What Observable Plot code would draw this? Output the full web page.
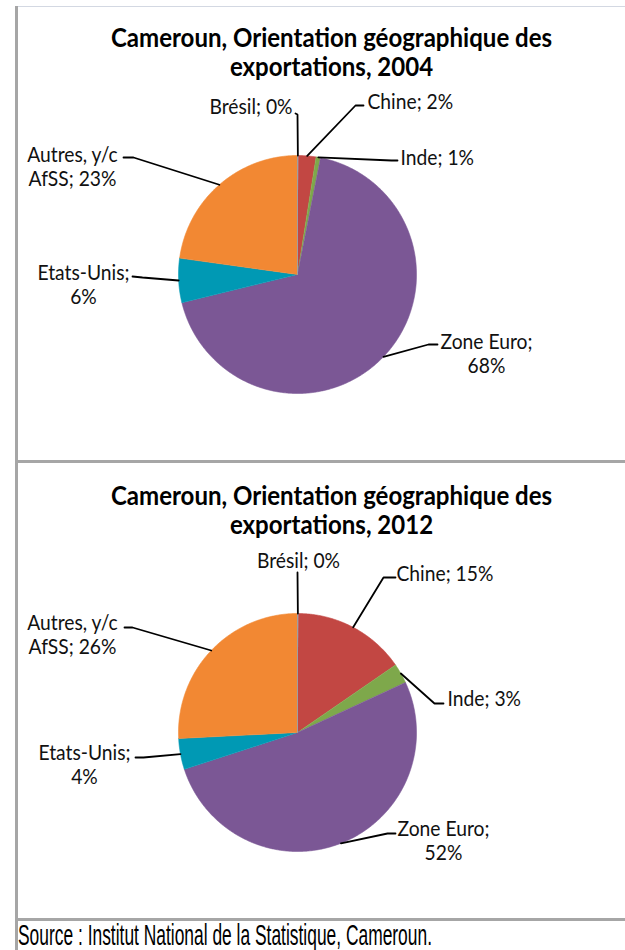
<!DOCTYPE html>
<html><head><meta charset="utf-8">
<script src="https://cdn.jsdelivr.net/npm/d3@7"></script>
<script src="https://cdn.jsdelivr.net/npm/@observablehq/plot@0.6"></script>
<style>
html,body{margin:0;padding:0;background:#fff;}
body{width:625px;height:950px;overflow:hidden;position:relative;font-family:Lato,sans-serif;}
.line{position:absolute;}
.chart{position:absolute;left:18px;}
#source{position:absolute;left:18px;top:921px;white-space:nowrap;font-family:"Liberation Sans Narrow","Liberation Sans",Arial,sans-serif;font-size:29px;line-height:29px;color:#000;transform-origin:0 0;}
</style>
</head><body>
<div class="line" style="left:15px;top:6px;width:3px;height:944px;background:#a6a6a6"></div>
<div class="line" style="left:18px;top:6px;width:607px;height:1px;background:#d3d8e2"></div>
<div class="line" style="left:18px;top:460px;width:607px;height:3px;background:#a6a6a6"></div>
<div class="line" style="left:18px;top:918px;width:607px;height:3px;background:#a6a6a6"></div>
<div id="c1" class="chart" style="top:7px"></div>
<div id="c2" class="chart" style="top:463px"></div>
<div id="source"></div>
<script>
// ---------- data ----------
const names = ["Brésil", "Chine", "Inde", "Zone Euro", "Etats-Unis", "Autres, y/c AfSS"];
const share2004 = [0.1, 2.4, 0.6, 68.1, 6.0, 22.8];
const share2012 = [0.1, 15.3, 2.7, 51.9, 4.2, 25.8];
const years = [2004, 2012];
const titleText = "Cameroun, Orientation géographique des exportations";
const sourceText = "Source : Institut National de la Statistique, Cameroun.";

// ---------- style / layout ----------
const colors = ["#a0a0a0", "#c24743", "#7ea84b", "#7b5795", "#0099b4", "#f28833"];
const R = 119;                 // pie radius (px)
const titleSize = 26, labelSize = 20.5;
const titleSX = 0.925, labelSX = 0.94; // horizontal text compression of the original
// per-slice label layout: text position (dx,dy from pie centre), anchor, line break, leader start L and elbow E
const layout2004 = [
  {tx: -5,   ty: -168, anchor: "end",    brk: null,   L: [-2, -161], E: [0, -160]},
  {tx: 70,   ty: -173, anchor: "start",  brk: null,   L: [66, -169], E: [58, -169]},
  {tx: 103,  ty: -117, anchor: "start",  brk: null,   L: [100, -114], E: [94, -114]},
  {tx: 189,  ty: 78.5, anchor: "middle", brk: "; ",   L: [140, 70],  E: [131, 70]},
  {tx: -214, ty: 10,   anchor: "middle", brk: "; ",   L: [-165, 2],  E: [-155, 3]},
  {tx: -225, ty: -108.5, anchor: "middle", brk: "y/c ", L: [-174, -117], E: [-164, -117]}
];
const layout2012 = [
  {tx: 1,    ty: -172, anchor: "middle", brk: null,   L: [0, -160],  E: [0, -160]},
  {tx: 99,   ty: -159, anchor: "start",  brk: null,   L: [98, -155], E: [86, -155]},
  {tx: 150,  ty: -34,  anchor: "start",  brk: null,   L: [146, -29], E: [137, -29]},
  {tx: 146,  ty: 107.5, anchor: "middle", brk: "; ",  L: [98, 101],  E: [90, 101]},
  {tx: -213, ty: 32,   anchor: "middle", brk: "; ",   L: [-162, 25], E: [-154, 25]},
  {tx: -225, ty: -98,  anchor: "middle", brk: "y/c ", L: [-173, -105], E: [-165, -105]}
];

function breakAfter(s, token) {
  if (!token) return s;
  const i = s.indexOf(token);
  return i < 0 ? s : s.slice(0, i + token.length).trimEnd() + "\n" + s.slice(i + token.length);
}

function pie(values, year, lay, w, h, cx, cy) {
  const rows = names.map((n, i) => ({name: n, value: values[i], pct: Math.round(values[i])}));
  const arcs = d3.pie().sort(null).value(d => d.value)(rows);
  const poly = [];
  arcs.forEach(a => {
    poly.push({name: a.data.name, x: 0, y: 0});
    const n = Math.max(2, Math.ceil((a.endAngle - a.startAngle) / (Math.PI / 360)));
    for (let k = 0; k <= n; k++) {
      const t = a.startAngle + (a.endAngle - a.startAngle) * k / n;
      poly.push({name: a.data.name, x: R * Math.sin(t), y: -R * Math.cos(t)});
    }
  });
  const leaders = [], labels = [];
  arcs.forEach((a, i) => {
    const m = (a.startAngle + a.endAngle) / 2, L = lay[i];
    const nm = a.data.name;
    leaders.push({name: nm, x: L.L[0], y: L.L[1]});
    leaders.push({name: nm, x: L.E[0], y: L.E[1]});
    leaders.push({name: nm, x: R * Math.sin(m), y: -R * Math.cos(m)});
    labels.push({x: L.tx, y: L.ty, anchor: L.anchor,
      text: breakAfter(`${nm}; ${a.data.pct}%`, L.brk)});
  });
  const title = [{x: 34, y: -222, text: breakAfter(`${titleText}, ${year}`, "des ")}];
  const textMarks = ["start", "middle", "end"].map(an =>
    Plot.text(labels.filter(d => d.anchor === an), {x: "x", y: "y", text: "text", textAnchor: an,
      lineAnchor: "middle", fontSize: labelSize, lineHeight: 1.18, fill: "#111"}));
  const svg = Plot.plot({
    width: w, height: h, margin: 0,
    style: {fontFamily: "Lato, sans-serif", background: "transparent", overflow: "visible"},
    x: {type: "linear", domain: [-cx, w - cx], range: [0, w], axis: null},
    y: {type: "linear", domain: [-cy, h - cy], range: [0, h], axis: null},
    color: {domain: names, range: colors},
    marks: [
      Plot.line(poly.filter(d => d.name !== names[0]), {x: "x", y: "y", z: "name", fill: "name", stroke: "name", strokeWidth: 0.6}),
      Plot.line(poly.filter(d => d.name === names[0]), {x: "x", y: "y", z: "name", fill: "name", stroke: "name", strokeWidth: 1}),
      Plot.line(leaders, {x: "x", y: "y", z: "name", stroke: "#000", strokeWidth: 1.8, strokeLinejoin: "miter"}),
      ...textMarks,
      Plot.text(title, {x: "x", y: "y", text: "text", textAnchor: "middle", lineAnchor: "middle",
        fontSize: titleSize, fontWeight: "bold", lineHeight: 1.08, fill: "#000", className: "ttl"})
    ]
  });
  // horizontal compression of the text, as in the original picture
  svg.querySelectorAll("text").forEach(t => {
    const isTitle = t.closest(".ttl") || (t.getAttribute("font-weight") === "bold") || (t.parentNode && t.parentNode.getAttribute("font-weight") === "bold");
    const k = isTitle ? titleSX : labelSX;
    const tr = t.getAttribute("transform");
    if (tr && k !== 1) t.setAttribute("transform", tr + ` scale(${k},1)`);
  });
  return svg;
}

document.getElementById("c1").appendChild(pie(share2004, years[0], layout2004, 607, 453, 279, 267));
document.getElementById("c2").appendChild(pie(share2012, years[1], layout2012, 607, 455, 279, 269));

const src = document.getElementById("source");
src.textContent = sourceText;
const wSrc = src.getBoundingClientRect().width;
src.style.transform = `scaleX(${414 / wSrc})`;
</script>
</body></html>
